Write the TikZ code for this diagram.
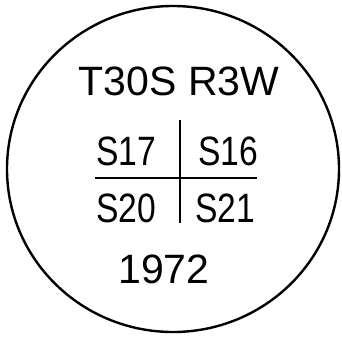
\documentclass[tikz,border=0pt]{standalone}
\usepackage{fontspec}
\setmainfont{Liberation Sans}
\usepackage{tikz}

\tikzset{
  plate/.style={line width=2.4pt},
  hand/.style={anchor=base, inner sep=0pt, font=\fontsize{41}{41}\selectfont},
  sect/.style={hand, xscale=0.82},
  cross/.style={line width=1.6pt}
}

\begin{document}
\begin{tikzpicture}[x=1pt,y=-1pt]
            \useasboundingbox (0,0) rectangle (342,337);

            % Draw the outer circle
            \draw[plate] (173,169) ellipse [x radius=166, y radius=163];

            % Township and range
            \node[hand] (twp) at (179,95) {T30S R3W};

            % Section grid
            \coordinate (top) at (180,120);
            \coordinate (bot) at (180,223);
            \coordinate (lft) at (95,178);
            \coordinate (rgt) at (257,178);
            \draw[cross] (top) -- (bot);
            \draw[cross] (lft) -- (rgt);

            \node[sect] (s17) at (126,165) {S17};
            \node[sect] (s16) at (228,165) {S16};
            \node[sect] (s20) at (126,222) {S20};
            \node[sect] (s21) at (225,222) {S21};

            % Year
            \node[hand] (year) at (164,283) {1972};

        \end{tikzpicture}
\end{document}
